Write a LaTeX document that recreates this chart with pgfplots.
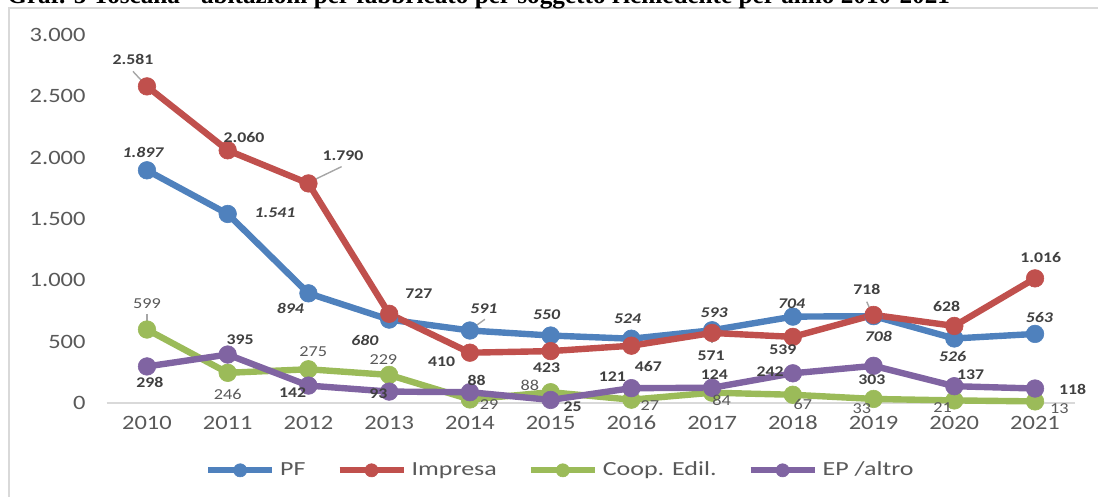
\documentclass[border=0pt]{standalone}
\usepackage{pgfplots}
\pgfplotsset{compat=1.18}
\usepackage{pgfplotstable}
\usepackage{fontspec}
\setmainfont[FakeStretch=1.2]{Carlito}
\newfontfamily\legfont[FakeStretch=1.3]{Carlito}
\newfontfamily\titlefont{Liberation Serif}

\definecolor{cPF}{HTML}{4F81BD}
\definecolor{cIMP}{HTML}{C0504D}
\definecolor{cCOOP}{HTML}{9BBB59}
\definecolor{cEP}{HTML}{8064A2}
\definecolor{ctxt}{HTML}{404040}
\definecolor{ctick}{HTML}{595959}
\definecolor{cgrid}{HTML}{D9D9D9}
\definecolor{clead}{HTML}{A6A6A6}

\pgfplotstableread{
x y dx dy
2010 1897 -2 9
2011 1541 23.6 0.5
2012 894 -9 -7.5
2013 680 -12.1 -10.5
2014 591 7 11.1
2015 550 -2 10.3
2016 524 -1.9 9.9
2017 593 1 8.8
2018 704 -0.6 6.7
2019 708 2.4 -10.2
2020 526 -0.8 -9.1
2021 563 2.2 8.1
}\tPF

\pgfplotstableread{
x y dx dy
2010 2581 -7 13.5
2011 2060 8.2 6.6
2012 1790 17.3 13.7
2013 727 14.9 10.3
2014 410 -14.1 -4.5
2015 423 -2 -8.1
2016 467 8.5 -10.5
2017 571 -0.5 -11.5
2018 539 -5 -6.5
2019 718 -3.4 12.5
2020 628 -3.8 10
2021 1016 2.8 10.5
}\tIMP

\pgfplotstableread{
x y dx dy
2010 599 0 13.1
2011 246 0 -10.6
2012 275 2.4 8.8
2013 229 -2.9 7.8
2014 29 9.6 -2.8
2015 88 -10.4 3.3
2016 27 9.3 -2.7
2017 84 4.8 -3.6
2018 67 5 -4.8
2019 33 -5.9 -5
2020 21 -5.8 -3.5
2021 13 12.2 -3.8
}\tCOOP

\pgfplotstableread{
x y dx dy
2010 298 1.5 -8.1
2011 395 6.2 7.6
2012 142 -7.9 -3.5
2013 93 -5.4 -0.9
2014 88 3.4 6.1
2015 25 11 -3.4
2016 121 -9.5 5.8
2017 124 1.1 6.4
2018 242 -11.4 0.8
2019 303 -0.9 -7.1
2020 137 8.2 5.6
2021 118 18.8 -0.4
}\tEP

\pgfplotsset{
  serie/.style={line width=3.2pt, mark=*, mark size=4.4pt, mark options={solid, line width=0.3pt}},
  lab/.style={draw=none, mark=none, forget plot,
    visualization depends on={\thisrow{dx}\as\dx},
    visualization depends on={\thisrow{dy}\as\dy},
    nodes near coords={\pgfmathprintnumber[fixed,precision=0,1000 sep={.}]{\pgfplotspointmeta}},
    nodes near coords align={center},
    every node near coord/.append style={anchor=center, inner sep=0pt, xshift=\dx pt, yshift=\dy pt, #1}},
}

\begin{document}
\begin{tikzpicture}
\draw[cgrid, line width=1pt] (4.25pt,0pt) -- (4.25pt,244.25pt) -- (549pt,244.25pt);
\node[anchor=base west, inner sep=0pt, font=\titlefont\bfseries\fontsize{12.6}{14}\selectfont] at (3.5pt,246.7pt)
  {Graf. 5 Toscana - abitazioni per fabbricato per soggetto richiedente per anno 2010-2021};
\begin{axis}[
  at={(53.3pt,47pt)}, anchor=south west,
  scale only axis, width=484.4pt, height=184pt,
  xmin=2009.5, xmax=2021.5, ymin=0, ymax=3000,
  xtick={2010,2011,...,2021}, ytick={0,500,...,3000},
  axis x line*=bottom, axis y line*=left,
  x axis line style={draw=cgrid, line width=1pt, -},
  y axis line style={draw=none},
  major tick length=0pt,
  /pgf/number format/.cd, 1000 sep={.}, assume math mode=true, /pgfplots/.cd,
  x tick label style={/pgf/number format/1000 sep={}, yshift=-3pt},
  yticklabel style={xshift=-7pt},
  tick label style={font=\fontsize{10.2}{12}\selectfont, text=ctick},
  clip=false,
  legend style={at={(0.4695,-0.183)}, anchor=center, legend columns=4, draw=none, fill=none,
    font=\legfont\fontsize{10}{12}\selectfont, text=ctick,
    /tikz/every even column/.append style={column sep=13.5pt},
    /tikz/every odd column/.append style={column sep=0.5pt}},
  legend image code/.code={\draw[#1, line width=3pt, mark size=3.3pt, mark repeat=2, mark phase=2]
     plot coordinates {(0pt,0pt) (16pt,0pt) (32pt,0pt)};},
]
\addplot[serie, color=cPF] table[x=x,y=y] {\tPF};
\addlegendentry{PF}
\addplot[serie, color=cIMP] table[x=x,y=y] {\tIMP};
\addlegendentry{Impresa}
\addplot[serie, color=cCOOP] table[x=x,y=y] {\tCOOP};
\addlegendentry{Coop. Edil.}
\addplot[serie, color=cEP] table[x=x,y=y] {\tEP};
\addlegendentry{EP /altro}

\draw[clead, line width=0.7pt] ([shift={(-7pt,7.5pt)}]axis cs:2010,2581) -- ([shift={(-0.5pt,0.5pt)}]axis cs:2010,2581);
\draw[clead, line width=0.7pt] ([shift={(16.6pt,8.4pt)}]axis cs:2012,1790) -- ([shift={(0.8pt,0.8pt)}]axis cs:2012,1790);
\draw[clead, line width=0.7pt] ([shift={(7.5pt,5.6pt)}]axis cs:2014,591) -- ([shift={(0pt,0.2pt)}]axis cs:2014,591);
\draw[clead, line width=0.7pt] (axis cs:2017,571) -- ([shift={(0pt,-5pt)}]axis cs:2017,571);
\draw[clead, line width=0.7pt] ([shift={(-3.4pt,6.6pt)}]axis cs:2019,718) -- ([shift={(-0.9pt,0.8pt)}]axis cs:2019,718);
\draw[clead, line width=0.7pt] ([shift={(0pt,7.8pt)}]axis cs:2010,599) -- ([shift={(0pt,0.6pt)}]axis cs:2010,599);

\addplot[lab={font=\bfseries\itshape\fontsize{7.4}{9}\selectfont, text=ctxt}] table[x=x,y=y] {\tPF};
\addplot[lab={font=\bfseries\fontsize{7.4}{9}\selectfont, text=ctxt}] table[x=x,y=y] {\tIMP};
\addplot[lab={font=\fontsize{7.6}{9}\selectfont, text=ctick}] table[x=x,y=y] {\tCOOP};
\addplot[lab={font=\bfseries\fontsize{7.4}{9}\selectfont, text=ctxt}] table[x=x,y=y] {\tEP};
\end{axis}
\pgfresetboundingbox
\useasboundingbox (0pt,0pt) rectangle (549pt,248.5pt);
\end{tikzpicture}
\end{document}
